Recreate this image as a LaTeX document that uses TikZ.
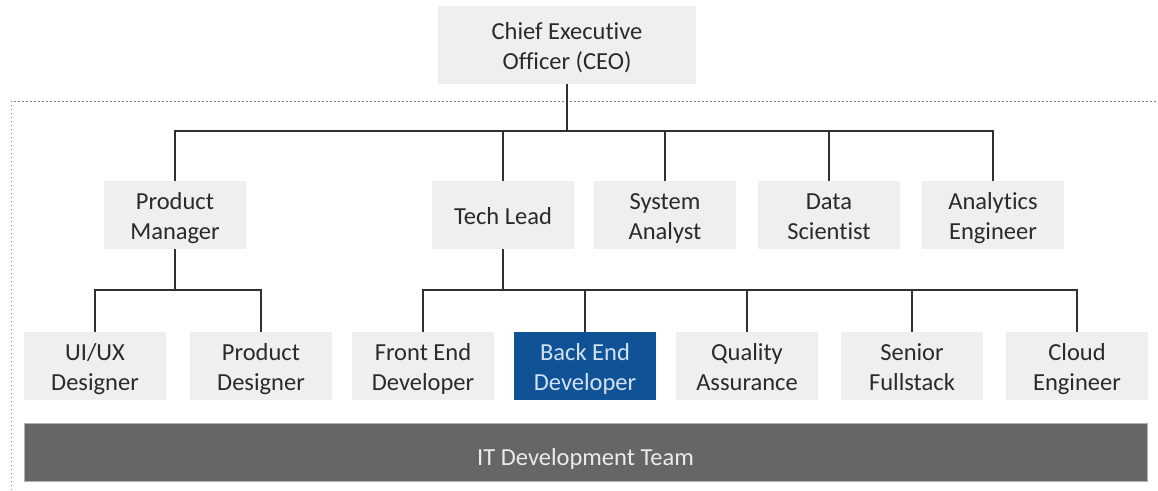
\documentclass[tikz,border=0pt]{standalone}
\usepackage{fontspec}
\setmainfont{Carlito}[Ligatures=NoCommon]
\usepackage{tikz}
\usetikzlibrary{calc}

\definecolor{boxgray}{HTML}{EFEFEF}
\definecolor{textgray}{HTML}{2A2A2A}
\definecolor{linegray}{HTML}{303030}
\definecolor{bardark}{HTML}{666666}
\definecolor{highblue}{HTML}{0F5296}
\definecolor{hightext}{HTML}{D2E2F2}

\tikzset{
  role/.style={fill=boxgray, text=textgray, minimum width=142pt, minimum height=68pt,
    inner sep=0pt, align=center, font=\fontsize{24.5}{30}\selectfont,
    text height=58pt, text depth=9pt},
  oneline/.style={text height=27pt, text depth=9pt},
  chosen/.style={role, fill=highblue, text=hightext},
  link/.style={draw=linegray, line width=1.6pt},
}

\begin{document}
\begin{tikzpicture}[x=1pt, y=-1pt]
    \useasboundingbox (0, 0) rectangle (1158, 490);

    % Draw the team frame
    \draw[gray, line width=1pt, dash pattern=on 1.5pt off 2.5pt] (11, 490) -- (11, 101) -- (1158, 101);

    % Draw the roles
    \node[role, minimum width=258pt, minimum height=78pt] (ceo) at (567, 45) {Chief Executive\\Officer (CEO)};

    \node[role] (pm) at (175, 215) {Product\\Manager};
    \node[role, oneline] (tl) at (503, 215) {Tech Lead};
    \node[role] (sa) at (665, 215) {System\\Analyst};
    \node[role] (ds) at (829, 215) {Data\\Scientist};
    \node[role] (ae) at (993, 215) {Analytics\\Engineer};

    \node[role] (ux) at (95, 366) {UI/UX\\Designer};
    \node[role] (pd) at (261, 366) {Product\\Designer};
    \node[role] (fe) at (423, 366) {Front End\\Developer};
    \node[chosen] (be) at (585, 366) {Back End\\Developer};
    \node[role] (qa) at (747, 366) {Quality\\Assurance};
    \node[role] (sf) at (912, 366) {Senior\\Fullstack};
    \node[role] (ce) at (1077, 366) {Cloud\\Engineer};

    % Draw the team bar
    \node[fill=bardark, draw=gray!60, line width=0.8pt, minimum width=1123pt, minimum height=58pt,
      inner sep=0pt, text=white!92!black, font=\fontsize{24.5}{30}\selectfont,
      text height=35pt, text depth=9pt] (team) at (585.5, 452) {IT Development Team};

    % Draw the connectors
    \coordinate (top) at (567, 131);
    \coordinate (pmbus) at (175, 290);
    \coordinate (tlbus) at (503, 290);

    \draw[link] (ceo.south) -- (top);
    \foreach \n in {pm, tl, sa, ds, ae}
      \draw[link] (top) -| (\n.north);

    \draw[link] (pm.south) -- (pmbus);
    \foreach \n in {ux, pd}
      \draw[link] (pmbus) -| (\n.north);

    \draw[link] (tl.south) -- (tlbus);
    \foreach \n in {fe, be, qa, sf, ce}
      \draw[link] (tlbus) -| (\n.north);
\end{tikzpicture}
\end{document}
